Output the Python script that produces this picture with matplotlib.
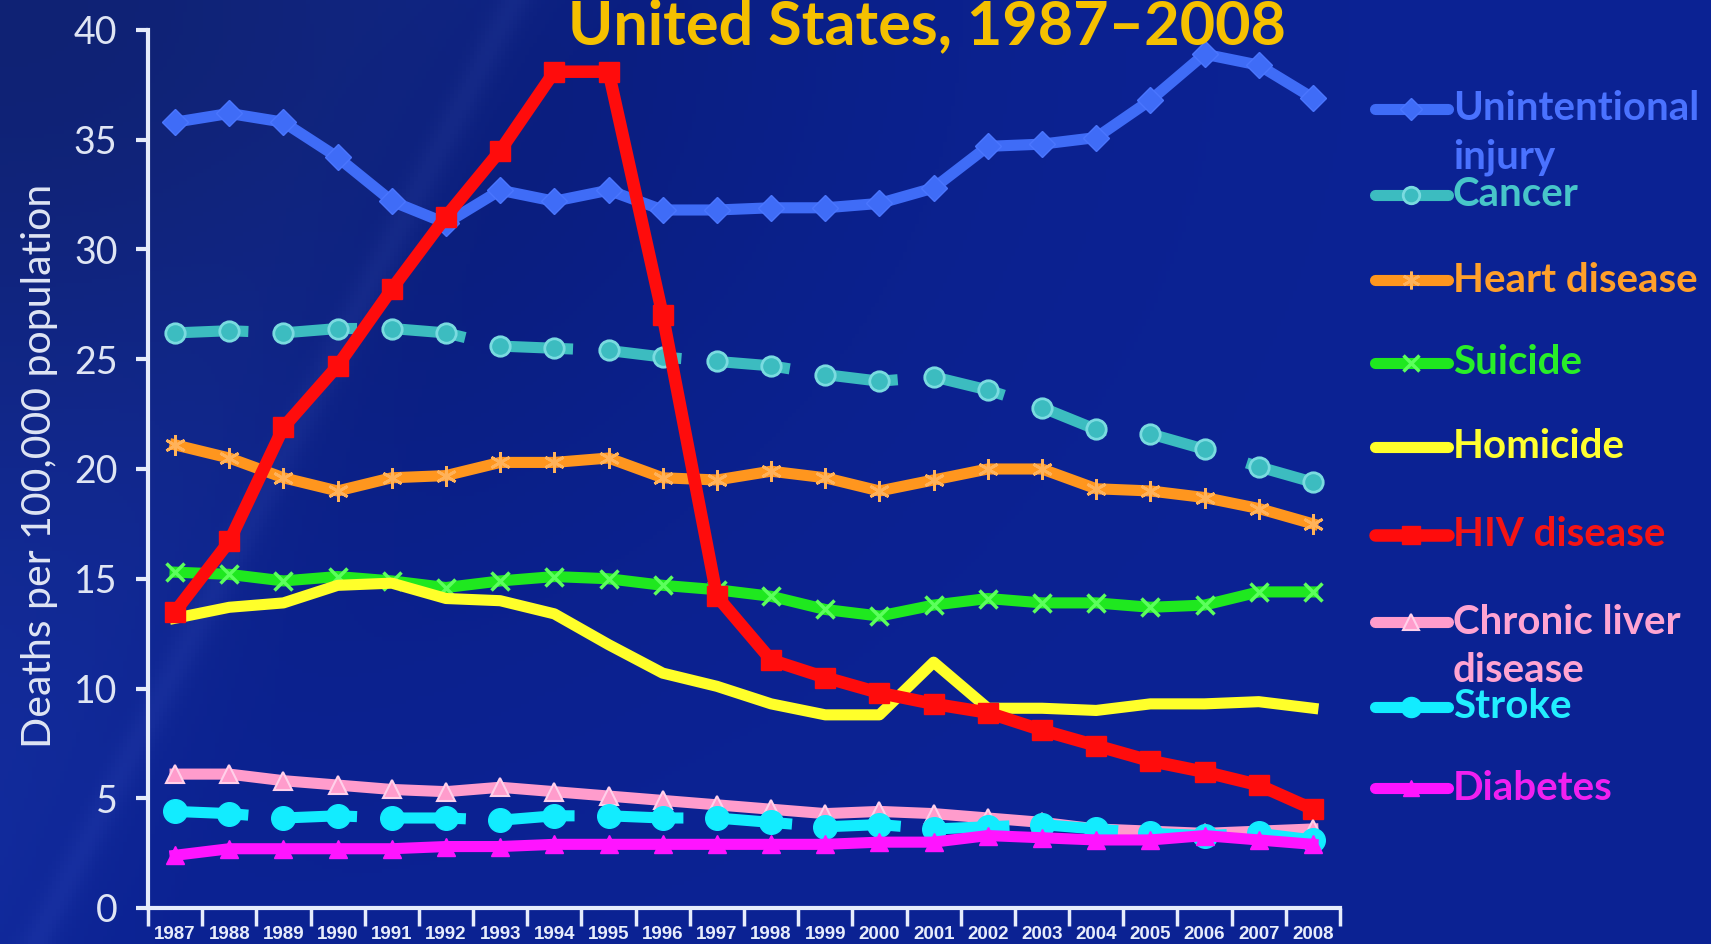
import numpy as np
import matplotlib

matplotlib.use("Agg")
import matplotlib.pyplot as plt
from matplotlib.lines import Line2D

# data (deaths per 100,000 population)
years = list(range(1987, 2009))
unintentional_injury = [35.8, 36.2, 35.8, 34.2, 32.2, 31.2, 32.7, 32.2, 32.7, 31.8, 31.8,
                        31.9, 31.9, 32.1, 32.8, 34.7, 34.8, 35.1, 36.8, 38.9, 38.4, 36.9]
cancer = [26.2, 26.3, 26.2, 26.4, 26.4, 26.2, 25.6, 25.5, 25.4, 25.1, 24.9,
          24.7, 24.3, 24.0, 24.2, 23.6, 22.8, 21.8, 21.6, 20.9, 20.1, 19.4]
heart_disease = [21.1, 20.5, 19.6, 19.0, 19.6, 19.7, 20.3, 20.3, 20.5, 19.6, 19.5,
                 19.9, 19.6, 19.0, 19.5, 20.0, 20.0, 19.1, 19.0, 18.7, 18.2, 17.5]
suicide = [15.3, 15.2, 14.9, 15.1, 14.9, 14.6, 14.9, 15.1, 15.0, 14.7, 14.5,
           14.2, 13.6, 13.3, 13.8, 14.1, 13.9, 13.9, 13.7, 13.8, 14.4, 14.4]
homicide = [13.2, 13.7, 13.9, 14.7, 14.8, 14.1, 14.0, 13.4, 12.0, 10.7, 10.1,
            9.3, 8.8, 8.8, 11.2, 9.1, 9.1, 9.0, 9.3, 9.3, 9.4, 9.1]
hiv_disease = [13.5, 16.7, 21.9, 24.7, 28.2, 31.5, 34.5, 38.1, 38.1, 27.0, 14.2,
               11.3, 10.5, 9.8, 9.3, 8.9, 8.1, 7.4, 6.7, 6.2, 5.6, 4.5]
chronic_liver = [6.1, 6.1, 5.8, 5.6, 5.4, 5.3, 5.5, 5.3, 5.1, 4.9, 4.7,
                 4.5, 4.3, 4.4, 4.3, 4.1, 3.9, 3.6, 3.5, 3.4, 3.5, 3.6]
stroke = [4.4, 4.3, 4.1, 4.2, 4.1, 4.1, 4.0, 4.2, 4.2, 4.1, 4.1,
          3.9, 3.7, 3.8, 3.6, 3.7, 3.8, 3.6, 3.4, 3.3, 3.4, 3.1]
diabetes = [2.4, 2.7, 2.7, 2.7, 2.7, 2.8, 2.8, 2.9, 2.9, 2.9, 2.9,
            2.9, 2.9, 3.0, 3.0, 3.3, 3.2, 3.1, 3.1, 3.3, 3.1, 2.9]

y_ticks = list(range(0, 41, 5))
title = "United States, 1987\u20132008"
y_label = "Deaths per 100,000 population"

DASH = (6.6, 3.2)
series = [
    (["Unintentional", "injury"], unintentional_injury,
     dict(color="#3f6cf7", marker="D", ms=13, mec="#4a76ff")),
    (["Cancer"], cancer,
     dict(color="#3cbcc0", marker="o", ms=14, mfc="#3cbcc0", mec="#7adbe0",
          mew=2, dashes=DASH)),
    (["Heart disease"], heart_disease,
     dict(color="#ff961e", marker=(6, 2, 0), ms=15, mec="#ffb25a", mew=2)),
    (["Suicide"], suicide,
     dict(color="#1fe81f", marker="x", ms=13, mec="#5cff5c", mew=2.5)),
    (["Homicide"], homicide,
     dict(color="#ffff2a", marker=None)),
    (["HIV disease"], hiv_disease,
     dict(color="#ff0c0c", marker="s", ms=15, lw=9)),
    (["Chronic liver", "disease"], chronic_liver,
     dict(color="#ff9ccc", marker="^", ms=13, mfc="#ff9ccc", mec="#ffd0ea", mew=1.5)),
    (["Stroke"], stroke,
     dict(color="#12ecff", marker="o", ms=17, dashes=DASH)),
    (["Diabetes"], diabetes,
     dict(color="#ff14ff", marker="^", ms=13)),
]
text_colors = ["#4a72ff", "#47c6c9", "#ffa02a", "#28ee28", "#ffff30",
               "#f51414", "#ffa4d2", "#22eeff", "#f020f0"]

W, H, DPI = 1711, 944, 100
fig = plt.figure(figsize=(W / DPI, H / DPI), dpi=DPI)

# slide background: deep blue with a soft diagonal light band
bg = fig.add_axes([0, 0, 1, 1], zorder=-10)
u, v = np.meshgrid(np.linspace(0, 1, 430), np.linspace(0, 1, 240))
base = np.array([0.045, 0.135, 0.58])
img = np.ones(u.shape + (3,)) * base
corner = np.exp(-((u / 0.4) ** 2 + (v / 0.55) ** 2))
img *= (1 - 0.3 * corner)[..., None]
dist = u - (0.30 - 0.28 * v)
img += (0.05 / (1 + np.exp(dist / 0.03)))[..., None] * np.array([0.6, 0.8, 1.0])
img += (0.03 * np.exp(-(dist / 0.01) ** 2))[..., None]
bg.imshow(np.clip(img, 0, 1), aspect="auto", extent=[0, 1, 0, 1])
bg.set_axis_off()

ax = fig.add_axes([148 / W, 1 - 908 / H, (1340 - 148) / W, (908 - 30) / H])
ax.set_facecolor("none")
x = np.arange(len(years))

for _, values, style in series:
    kw = dict(style)
    kw.setdefault("lw", 8)
    kw.setdefault("mfc", kw["color"])
    kw.setdefault("mec", kw["color"])
    ax.plot(x, values, solid_joinstyle="round", dash_capstyle="butt",
            clip_on=False, **kw)

axis_color = "#e6ecfb"
ax.set_xlim(-0.5, len(years) - 0.5)
ax.set_ylim(0, 40)
for side in ("top", "right"):
    ax.spines[side].set_visible(False)
for side in ("left", "bottom"):
    ax.spines[side].set_color(axis_color)
    ax.spines[side].set_linewidth(3)

ax.set_xticks(x, labels=[str(yr) for yr in years])
ax.set_xticks(np.arange(-0.5, len(years), 1), minor=True)
ax.tick_params(axis="x", which="major", length=0, pad=13, labelsize=13.5,
               labelcolor="#e8edfb")
ax.tick_params(axis="x", which="minor", length=13, width=2.5, color=axis_color)
for lbl in ax.get_xticklabels():
    lbl.set_fontfamily("Liberation Sans")
    lbl.set_fontweight("bold")

ax.set_yticks(y_ticks)
ax.tick_params(axis="y", length=9, width=3, color=axis_color, pad=13,
               labelsize=27, labelcolor="#dfe5f4")
for lbl in ax.get_yticklabels():
    lbl.set_fontfamily("Lato")

fig.text(40 / W, 1 - 466 / H, y_label, rotation=90, ha="center", va="center",
         fontsize=29.5, family="Lato", color="#dfe5f4")

# title sits partly above the top edge, as in the cropped slide
fig.text(927 / W, 1 - 44 / H, title, ha="center", va="baseline",
         fontsize=44, family="Lato", weight="bold", color="#f5c000")

# legend drawn beside the plot, handle aligned with first label line
legend_y = [109, 195, 280, 363, 447, 535, 622, 707, 788]
for (label, _, style), tcolor, ypx in zip(series, text_colors, legend_y):
    yf = 1 - ypx / H
    fig.add_artist(Line2D([1375 / W, 1448 / W], [yf, yf], color=style["color"],
                          lw=style.get("lw", 8), solid_capstyle="round"))
    if style.get("marker") is not None:
        fig.add_artist(Line2D([1411 / W], [yf], ls="none", marker=style["marker"],
                              ms=style["ms"] * 0.85,
                              mfc=style.get("mfc", style["color"]),
                              mec=style.get("mec", style["color"]),
                              mew=style.get("mew", 1)))
    for k, line in enumerate(label):
        fig.text(1453 / W, yf - k * 48 / H, line, ha="left", va="center",
                 fontsize=29, family="Lato", weight="bold", color=tcolor)

fig.savefig("out.png", dpi=DPI, facecolor=fig.get_facecolor())
